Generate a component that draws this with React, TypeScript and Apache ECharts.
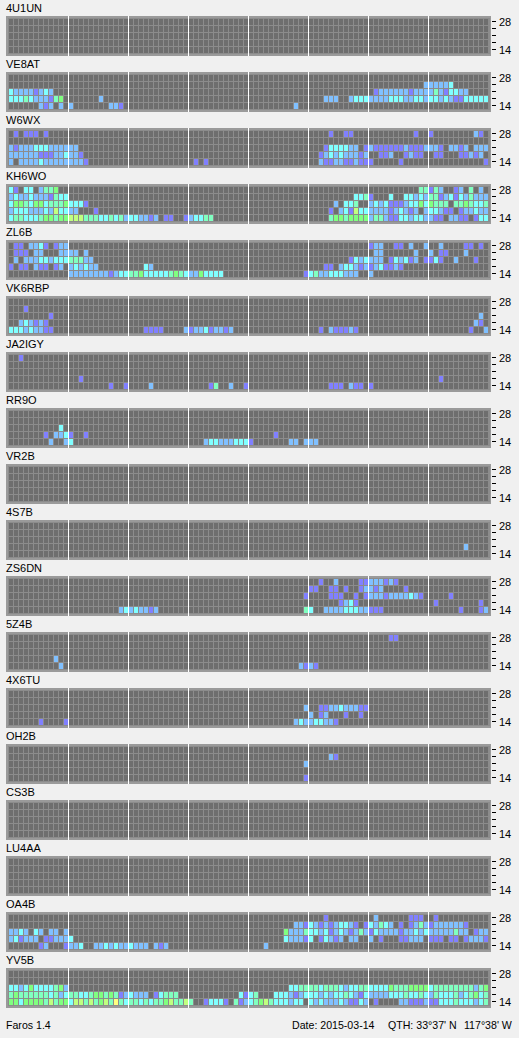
import React, { useEffect, useRef } from "react";
import * as echarts from "echarts";

// Signal levels per slot: each station has five rows (28 MHz at the top, 14 MHz at the bottom).
// A row is a list of "startSlot:levels"; "." is a slot with no level.
const BANDS = ["14", "18", "21", "24", "28"];
const SLOTS = Array.from({ length: 96 }, (_, i) => String(i));
const LABELLED_BANDS = ["14", "28"];

const U4U1UN = ["", "", "", "", ""];
const VE8AT = ["", "83:222223", "0:322221232 73:1222222122224213322", "0:33343222145 18:2 63:222 68:2333222233322332332321133333", "6:212 10:2 12:2 20:221 57:2"];
const W6WX = ["1:1 3:111 7:1 64:1 67:11 81:1 84:1 93:21", "", "0:21222333222222 63:1333322.1211111121112221.2212.222", "0:222222111223221 62:1232322212..112..1211 85:11 90:11212", "0:2.22223222222221 37:1.1 62:21122112111 78:1 95:1"];
const KH6WO = ["0:31.33.2445 82:44142 89:12 92:4 94:2", "0:232232221433 69:3341 76:3 79:33232441231324222", "0:3554355344453331 65:2 67:334 72:2323111233535444.4454334", "0:23332223263322 17:1 64:1.2316332222123212.233211.122322", "0:344333455455666444334342332212 31:11 35:123344 64:45545555244211332332211.2211.133"];
const ZL6B = ["1:11.2231.122 72:122 77:11 80:2 83:2 86:2 91:11 94:1", "1:111.22 10:2222.2 73:22 81:2 84:2 86:11 91:2", "1:2.22233233344422 68:1323222.132312.1131 89:2 93:1", "0:1.11.211.12.232322 27:32 63:11.2332121231121", "12:2222222212334453333345432253333 59:13422333222 72:2"];
const VK6RBP = ["", "3:1", "8:1 94:2", "2:232121 93:21", "0:333232211 27:1111 35:2122312212 62:1.211121 92:1 95:2"];
const JA2IGY = ["2:1", "", "", "14:1 86:1", "20:1 23:1 28:2 40:14 44:2 47:1 64:111.211.1"];
const RR9O = ["", "", "10:3", "7:1.2231 15:1 53:1", "8:2 11:23 39:2332223331 56:22 59:222"];
const VR2B = ["", "", "", "", ""];
const S4S7B = ["", "", "", "91:2", ""];
const ZS6DN = ["62:1 65:2 70:11222121", "60:11 64:11 67:1 70:12212 79:1", "59:1 64:111 69:1 71:122212222321 88:1", "66:1231 85:1 94:1", "22:23232212 59:43 63:222233322111 90:1 94:12"];
const Z5Z4B = ["76:11", "", "", "9:2", "10:2 58:2121"];
const X4X6TU = ["", "", "59:2 62:1122322211", "60:2 62:12 67:1 70:1", "6:1 11:1 57:232233221"];
const OH2B = ["", "64:21", "59:2", "", "59:1"];
const CS3B = ["", "", "", "", ""];
const LU4AA = ["", "", "", "", ""];
const OA4B = ["63:1 73:2 80:111 85:1", "57:2213212123321.132432.1.124212222221", "0:2232.32.22.2 55:5222433231232124213222212232322222422.122", "0:231222.112223 55:322213.13212.22 72:2 74:1 78:11222.111.11.12221", "6:12 11:1223 17:22323223222.212 51:2"];
const YV5B = ["", "", "0:332353333452 56:3344443444323344333354445555344444444245", "0:4544444434234433455454123222.13444 46:3134 53:3332123332323343213222233343343243334234534", "0:5535555464553664645647434434344564464..13331.41234564333233.323222321132.1 78:221112113334333234"];

const STATIONS = [
  ["4U1UN", U4U1UN], ["VE8AT", VE8AT], ["W6WX", W6WX], ["KH6WO", KH6WO], ["ZL6B", ZL6B], ["VK6RBP", VK6RBP],
  ["JA2IGY", JA2IGY], ["RR9O", RR9O], ["VR2B", VR2B], ["4S7B", S4S7B], ["ZS6DN", ZS6DN], ["5Z4B", Z5Z4B],
  ["4X6TU", X4X6TU], ["OH2B", OH2B], ["CS3B", CS3B], ["LU4AA", LU4AA], ["OA4B", OA4B], ["YV5B", YV5B],
] as [string, string[]][];

const LEVEL_COLORS = ["#6e6e6e", "#8080ff", "#80c0ff", "#80ffff", "#80ffc0", "#80ff80", "#c0ff80", "#ffff80"];
const FONT = "'Liberation Sans', sans-serif";

function cells(rows: string[]) {
  const grid = rows.map(() => SLOTS.map(() => 0));
  rows.forEach((row, r) => {
    row.split(" ").filter(Boolean).forEach((run) => {
      const [start, levels] = run.split(":");
      [...levels].forEach((ch, i) => {
        if (ch !== ".") grid[r][Number(start) + i] = Number(ch);
      });
    });
  });
  const out: number[][] = [];
  grid.forEach((row, r) => row.forEach((level, c) => out.push([c, 4 - r, level])));
  return out;
}

export default function App() {
  const ref = useRef<HTMLDivElement>(null);
  useEffect(() => {
    document.body.style.margin = "0";
    document.body.style.background = "#f0f0f0";
    const chart = echarts.init(ref.current!, null, { renderer: "svg" });
    const PITCH = 56;
    const grids: any[] = [], xAxes: any[] = [], yAxes: any[] = [], series: any[] = [], elements: any[] = [];
    STATIONS.forEach(([name, rows], k) => {
      const top = 16 + PITCH * k;
      grids.push({ left: 9, width: 480, top: top + 2, height: 35 });
      xAxes.push({ gridIndex: k, type: "category", data: SLOTS, show: false });
      yAxes.push({
        gridIndex: k, type: "category", data: BANDS, position: "right", offset: 3,
        axisLine: { show: false },
        axisTick: { show: true, alignWithLabel: true, interval: 0, length: 4, lineStyle: { color: "#000" } },
        axisLabel: {
          interval: 0, margin: 7, fontSize: 11, color: "#000", fontFamily: FONT,
          formatter: (v: string) => (LABELLED_BANDS.includes(v) ? v : ""),
        },
      });
      series.push({
        type: "custom", coordinateSystem: "cartesian2d", xAxisIndex: k, yAxisIndex: k, silent: true, z: 3,
        data: cells(rows),
        renderItem: (_: any, api: any) => {
          const p = api.coord([api.value(0), api.value(1)]);
          return {
            type: "rect",
            shape: { x: p[0] - 2.5, y: p[1] - 2.5, width: 4, height: 6 },
            style: { fill: LEVEL_COLORS[api.value(2)] },
          };
        },
      });
      elements.push({ type: "rect", shape: { x: 6, y: top, width: 485, height: 40 }, style: { fill: "#9a9a9a" }, z: 0 });
      elements.push({ type: "rect", shape: { x: 8, y: top + 2, width: 482, height: 36 }, style: { fill: "#8c8c8c" }, z: 1 });
      for (let i = 1; i < 8; i++) {
        elements.push({ type: "rect", shape: { x: 8 + 60 * i, y: top, width: 1, height: 40 }, style: { fill: "#ffffff" }, z: 2 });
      }
      elements.push({
        type: "text", x: 6, y: top - 8, z: 4,
        style: { text: name, fontSize: 11, fontFamily: FONT, fill: "#000", verticalAlign: "middle" },
      });
    });
    const footer = (text: string, x: number) => ({
      type: "text", x, y: 1025, z: 4,
      style: { text, fontSize: 10.6, fontFamily: FONT, fill: "#000", verticalAlign: "middle" },
    });
    elements.push(footer("Faros 1.4", 6), footer("Date: 2015-03-14", 292), footer("QTH: 33°37' N", 388), footer("117°38' W", 464));
    chart.setOption({
      animation: false, backgroundColor: "#f0f0f0",
      grid: grids, xAxis: xAxes, yAxis: yAxes, series,
      graphic: { elements },
    });
    return () => chart.dispose();
  }, []);
  return <div ref={ref} style={{ width: 519, height: 1038 }} />;
}
